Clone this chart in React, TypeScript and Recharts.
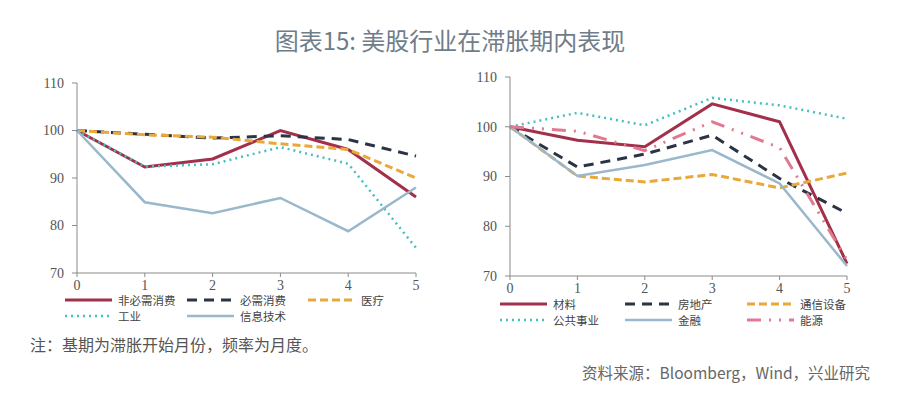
import React from 'react'
import { LineChart, Line, XAxis, YAxis } from 'recharts'

// months since stagflation start
const months = [0, 1, 2, 3, 4, 5]
const yTicks = [70, 80, 90, 100, 110]

// left panel
const nonEssential = [100, 92.3, 94.0, 100.0, 96.0, 86.0]
const staples = [100, 99.2, 98.4, 98.9, 98.1, 94.6]
const health = [100, 99.1, 98.6, 97.2, 96.0, 90.0]
const industrial = [100, 92.4, 92.9, 96.5, 93.0, 75.3]
const infoTech = [100, 84.9, 82.6, 85.8, 78.8, 88.0]

// right panel
const materials = [100, 97.3, 96.0, 104.6, 101.0, 72.5]
const realEstate = [100, 91.9, 94.5, 98.3, 89.6, 82.6]
const telecom = [100, 90.1, 88.9, 90.4, 87.7, 90.7]
const utilities = [100, 102.8, 100.3, 105.8, 104.3, 101.6]
const financials = [100, 90.1, 92.3, 95.3, 88.6, 72.0]
const energy = [100, 99.1, 95.2, 101.0, 95.8, 73.2]

const RED = '#a3304a'
const NAVY = '#2b3445'
const ORANGE = '#e8a83a'
const TEAL = '#45bfc0'
const STEEL = '#9ab8cc'
const PINK = '#e07a90'

type Series = { key: string; name: string; values: number[]; color: string; width: number; dash?: string }

const leftSeries: Series[] = [
  { key: 'a', name: '非必需消费', values: nonEssential, color: RED, width: 3 },
  { key: 'b', name: '必需消费', values: staples, color: NAVY, width: 3, dash: '10 7' },
  { key: 'c', name: '医疗', values: health, color: ORANGE, width: 3, dash: '8 4' },
  { key: 'd', name: '工业', values: industrial, color: TEAL, width: 2.5, dash: '2 4' },
  { key: 'e', name: '信息技术', values: infoTech, color: STEEL, width: 2.5 },
]

const rightSeries: Series[] = [
  { key: 'a', name: '材料', values: materials, color: RED, width: 3 },
  { key: 'b', name: '房地产', values: realEstate, color: NAVY, width: 3, dash: '10 7' },
  { key: 'c', name: '通信设备', values: telecom, color: ORANGE, width: 3, dash: '8 4' },
  { key: 'd', name: '公共事业', values: utilities, color: TEAL, width: 2.5, dash: '2 4' },
  { key: 'e', name: '金融', values: financials, color: STEEL, width: 2.5 },
  { key: 'f', name: '能源', values: energy, color: PINK, width: 3, dash: '14 8 2 8 2 8' },
]

const toRows = (series: Series[]) =>
  months.map((m, i) => {
    const row: Record<string, number> = { x: m }
    series.forEach(s => { row[s.key] = s.values[i] })
    return row
  })

const tickStyle = { fill: '#555', fontSize: 14, fontFamily: 'Liberation Serif' }
const axisColor = '#8a8a8a'

function Panel({ series, width, margin }: { series: Series[]; width: number; margin: any }) {
  return (
    <LineChart width={width} height={397} data={toRows(series)} margin={margin}>
      <XAxis
        dataKey="x"
        type="number"
        domain={[0, 5]}
        ticks={months}
        height={20}
        tickSize={4}
        tickMargin={3}
        tick={tickStyle}
        stroke={axisColor}
        interval={0}
      />
      <YAxis
        domain={[70, 110]}
        ticks={yTicks}
        width={40}
        tickSize={5}
        tickMargin={8}
        tick={tickStyle}
        stroke={axisColor}
        interval={0}
      />
      {series.map(s => (
        <Line
          key={s.key}
          dataKey={s.key}
          stroke={s.color}
          strokeWidth={s.width}
          strokeDasharray={s.dash}
          dot={false}
          activeDot={false}
          isAnimationActive={false}
        />
      ))}
    </LineChart>
  )
}

function LegendBox({ series, cols, rows }: { series: Series[]; cols: number[]; rows: number[] }) {
  return (
    <>
      {series.map((s, i) => {
        const cx = cols[i % 3]
        const cy = rows[Math.floor(i / 3)]
        return (
          <div key={s.key} style={{ position: 'absolute', left: cx, top: cy - 6, height: 12, display: 'flex', alignItems: 'center' }}>
            <svg width={47} height={8}>
              <line x1={0} y1={4} x2={47} y2={4} stroke={s.color} strokeWidth={s.width} strokeDasharray={s.dash} />
            </svg>
            <span style={{ marginLeft: 6, fontSize: 11.5, color: '#444', fontFamily: '"Noto Sans CJK SC"', lineHeight: '12px' }}>
              {s.name}
            </span>
          </div>
        )
      })}
    </>
  )
}

export default function App() {
  return (
    <div style={{ position: 'absolute', left: 0, top: 0, width: 900, height: 397, background: '#fff', overflow: 'hidden' }}>
      <div
        style={{
          position: 'absolute', left: 0, top: 24, width: 900, textAlign: 'center',
          fontFamily: '"Noto Sans CJK SC"', fontSize: 24, fontWeight: 400, color: '#6f7d8a', lineHeight: '32px',
        }}
      >
        图表15: 美股行业在滞胀期内表现
      </div>

      <div style={{ position: 'absolute', left: 0, top: 0 }}>
        <Panel series={leftSeries} width={440} margin={{ top: 83, right: 24, bottom: 104, left: 37 }} />
      </div>
      <div style={{ position: 'absolute', left: 440, top: 0 }}>
        <Panel series={rightSeries} width={460} margin={{ top: 77, right: 53, bottom: 101, left: 30 }} />
      </div>

      <LegendBox series={leftSeries} cols={[65, 187, 308]} rows={[300, 316]} />
      <LegendBox series={rightSeries} cols={[500, 625, 747]} rows={[304, 320]} />

      <div style={{ position: 'absolute', left: 30, top: 333, fontFamily: '"Noto Sans CJK SC"', fontSize: 16, color: '#555', lineHeight: '22px' }}>
        注：基期为滞胀开始月份，频率为月度。
      </div>
      <div style={{ position: 'absolute', right: 30, top: 361, fontFamily: '"Noto Sans CJK SC"', fontSize: 15.5, color: '#666', lineHeight: '22px' }}>
        资料来源：Bloomberg，Wind，兴业研究
      </div>
    </div>
  )
}
